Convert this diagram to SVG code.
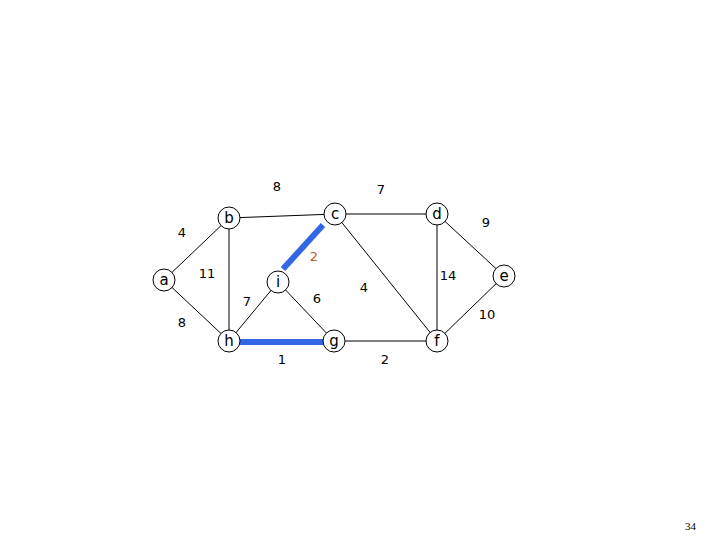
<svg xmlns="http://www.w3.org/2000/svg" width="720" height="540" viewBox="0 0 720 540">
<style>
.n circle{fill:#fff;stroke:#000;stroke-width:1}
.n text{font-family:"DejaVu Sans",sans-serif;font-size:15px;text-anchor:middle}
.e line{stroke:#000;stroke-width:1}
.e line.m{stroke:#3366e6;stroke-width:6}
.w{font-family:"DejaVu Sans",sans-serif;font-size:13px;text-anchor:middle}
</style>
<rect width="720" height="540" fill="#fff"/>
<g class="e">
<line x1="164" y1="280" x2="229" y2="218"/>
<line x1="164" y1="280" x2="229" y2="341"/>
<line x1="229" y1="218" x2="335" y2="214"/>
<line x1="229" y1="218" x2="229" y2="341"/>
<line x1="335" y1="214" x2="437" y2="214"/>
<line x1="335" y1="214" x2="437" y2="341"/>
<line x1="437" y1="214" x2="504" y2="276"/>
<line x1="437" y1="214" x2="437" y2="341"/>
<line x1="504" y1="276" x2="437" y2="341"/>
<line x1="334" y1="341" x2="437" y2="341"/>
<line x1="278" y1="282" x2="229" y2="341"/>
<line x1="278" y1="282" x2="334" y2="341"/>
<line class="m" x1="323" y1="225" x2="283" y2="269"/>
<line class="m" x1="238" y1="342" x2="325" y2="342"/>
</g>
<g class="w">
<text x="182" y="237">4</text>
<text x="182" y="327">8</text>
<text x="207" y="278">11</text>
<text x="277" y="191">8</text>
<text x="381" y="194">7</text>
<text x="486" y="227">9</text>
<text x="314" y="261" fill="#c0602a">2</text>
<text x="247" y="306">7</text>
<text x="317" y="303">6</text>
<text x="364" y="292">4</text>
<text x="448" y="280">14</text>
<text x="487" y="319">10</text>
<text x="282" y="364">1</text>
<text x="385" y="364">2</text>
</g>
<g id="a" class="n"><circle cx="164" cy="280" r="11"/><text x="164" y="285">a</text></g>
<g id="b" class="n"><circle cx="229" cy="218" r="11"/><text x="229" y="223">b</text></g>
<g id="c" class="n"><circle cx="335" cy="214" r="11"/><text x="335" y="219">c</text></g>
<g id="d" class="n"><circle cx="437" cy="214" r="11"/><text x="437" y="219">d</text></g>
<g id="e" class="n"><circle cx="504" cy="276" r="11"/><text x="504" y="281">e</text></g>
<g id="f" class="n"><circle cx="437" cy="341" r="11"/><text x="437" y="346">f</text></g>
<g id="g" class="n"><circle cx="334" cy="341" r="11"/><text x="334" y="346">g</text></g>
<g id="h" class="n"><circle cx="229" cy="341" r="11"/><text x="229" y="346">h</text></g>
<g id="i" class="n"><circle cx="278" cy="282" r="11"/><text x="278" y="287">i</text></g>
<text x="696" y="530" font-family="Liberation Serif,serif" font-size="11" text-anchor="end">34</text>
</svg>
